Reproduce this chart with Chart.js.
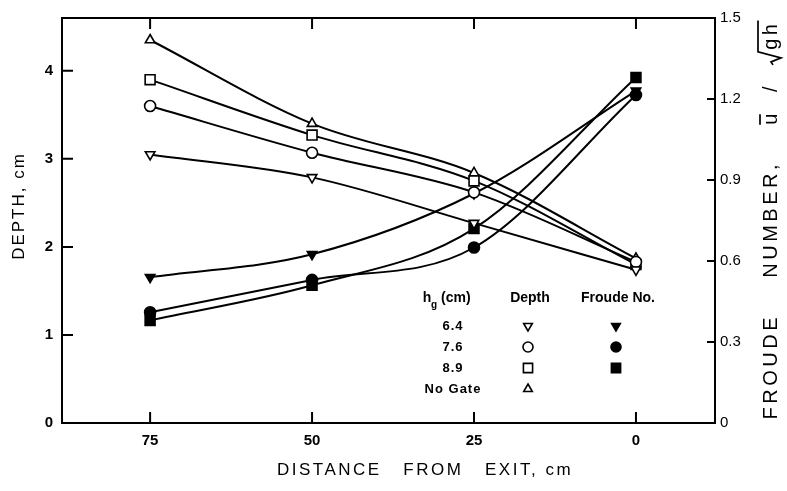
<!DOCTYPE html>
<html>
<head>
<meta charset="utf-8">
<script src="https://cdn.jsdelivr.net/npm/chart.js@4/dist/chart.umd.min.js"></script>
<style>
html,body{margin:0;padding:0;background:#fff;}
#wrap{width:787px;height:491px;position:relative;}
</style>
</head>
<body>
<div id="wrap"><canvas id="c" width="787" height="491"></canvas></div>
<script>
// ---- data ----
const distances = [75, 50, 25, 0];
const depth64 = [3.05, 2.79, 2.27, 1.74];
const depth76 = [3.60, 3.07, 2.62, 1.83];
const depth89 = [3.90, 3.27, 2.75, 1.80];
const depthNoGate = [4.35, 3.40, 2.84, 1.87];
const froude64 = [0.54, 0.625, 0.85, 1.23];
const froude76 = [0.41, 0.53, 0.65, 1.215];
const froude89 = [0.38, 0.51, 0.72, 1.28];
const xTicks = [75, 50, 25, 0];
const depthTicks = [0, 1, 2, 3, 4];
const froudeTicks = [0, 0.3, 0.6, 0.9, 1.2, 1.5];
const legendRows = ['6.4', '7.6', '8.9', 'No Gate'];

const FONT = '"Liberation Sans", Arial, sans-serif';
const pts = arr => distances.map((d, i) => ({x: d, y: arr[i]}));

function ds(arr, axis, style, filled, rot) {
  return {
    data: pts(arr), yAxisID: axis,
    borderColor: '#000', borderWidth: 2,
    cubicInterpolationMode: 'monotone',
    pointStyle: style, pointRotation: rot || 0,
    pointRadius: style === 'rect' ? 7 : 5.5,
    pointBackgroundColor: filled ? '#000' : '#fff',
    pointBorderColor: '#000', pointBorderWidth: 1.6,
    fill: false
  };
}

const frame = {
  id: 'frame',
  afterDraw(chart) {
    const ctx = chart.ctx, a = chart.chartArea;
    const xs = chart.scales.x, yl = chart.scales.y, yr = chart.scales.y1;
    ctx.save();
    ctx.strokeStyle = '#000';
    ctx.lineWidth = 2;
    ctx.strokeRect(a.left, a.top, a.right - a.left, a.bottom - a.top);
    ctx.beginPath();
    xTicks.forEach(v => {
      const px = xs.getPixelForValue(v);
      ctx.moveTo(px, a.bottom); ctx.lineTo(px, a.bottom - 11);
      ctx.moveTo(px, a.top); ctx.lineTo(px, a.top + 11);
    });
    depthTicks.forEach(v => {
      const py = yl.getPixelForValue(v);
      ctx.moveTo(a.left, py); ctx.lineTo(a.left + 11, py);
    });
    froudeTicks.forEach(v => {
      const py = yr.getPixelForValue(v);
      ctx.moveTo(a.right, py); ctx.lineTo(a.right - 8, py);
    });
    ctx.stroke();

    // titles
    ctx.fillStyle = '#000';
    ctx.textBaseline = 'middle';
    ctx.textAlign = 'center';
    ctx.font = '17px ' + FONT;
    ctx.letterSpacing = '2.5px';
    ctx.fillText('DISTANCE   FROM   EXIT, cm', 425, 470);

    ctx.save();
    ctx.translate(19, 206);
    ctx.rotate(-Math.PI / 2);
    ctx.letterSpacing = '2px';
    ctx.fillText('DEPTH, cm', 0, 0);
    ctx.restore();

    ctx.save();
    ctx.translate(771, 220);
    ctx.rotate(-Math.PI / 2);
    ctx.textAlign = 'left';
    ctx.font = '20px ' + FONT;
    ctx.letterSpacing = '3.5px';
    const t1 = 'FROUDE    NUMBER,    ';
    const t2 = 'u  /  ';
    const t3 = 'gh';
    const w1 = ctx.measureText(t1).width, w2 = ctx.measureText(t2).width;
    const w3 = ctx.measureText(t3).width;
    const total = w1 + w2 + 15 + w3;
    let x0 = -total / 2;
    ctx.fillText(t1, x0, 0);
    ctx.fillText(t2, x0 + w1, 0);
    const uw = ctx.measureText('u').width;
    ctx.lineWidth = 1.7;
    ctx.beginPath();
    ctx.moveTo(x0 + w1, -11); ctx.lineTo(x0 + w1 + uw - 4, -11);
    const sx = x0 + w1 + w2;
    ctx.moveTo(sx, 2); ctx.lineTo(sx + 3, 0); ctx.lineTo(sx + 7, 10);
    ctx.lineTo(sx + 13, -13); ctx.lineTo(sx + 15 + w3, -13);
    ctx.stroke();
    ctx.fillText(t3, sx + 15, 0);
    ctx.restore();

    // legend
    ctx.letterSpacing = '0px';
    ctx.font = 'bold 14px ' + FONT;
    ctx.textAlign = 'center';
    ctx.fillText('h', 427, 298);
    ctx.font = 'bold 10px ' + FONT;
    ctx.fillText('g', 434, 305);
    ctx.font = 'bold 14px ' + FONT;
    ctx.textAlign = 'left';
    ctx.fillText('(cm)', 441, 298);
    ctx.textAlign = 'center';
    ctx.fillText('Depth', 530, 298);
    ctx.fillText('Froude No.', 618, 298);
    const rowsY = [326, 347, 368, 389];
    ctx.font = 'bold 13px ' + FONT;
    ctx.letterSpacing = '1px';
    legendRows.forEach((r, i) => ctx.fillText(r, 453, rowsY[i]));
    const mk = (style, x, y, filled, rot) => {
      ctx.save();
      ctx.fillStyle = filled ? '#000' : '#fff';
      ctx.strokeStyle = '#000';
      ctx.lineWidth = 1.6;
      Chart.helpers.drawPoint(ctx, {pointStyle: style, rotation: rot || 0, radius: style === 'rect' ? 6.5 : 5, borderWidth: 1.6}, x, y);
      ctx.restore();
    };
    mk('triangle', 528, rowsY[0], false, 180);
    mk('circle', 528, rowsY[1], false);
    mk('rect', 528, rowsY[2], false);
    mk('triangle', 528, rowsY[3], false);
    mk('triangle', 616, rowsY[0], true, 180);
    mk('circle', 616, rowsY[1], true);
    mk('rect', 616, rowsY[2], true);
    ctx.restore();
  }
};

new Chart(document.getElementById('c'), {
  type: 'line',
  data: {
    datasets: [
      ds(depth64, 'y', 'triangle', false, 180),
      ds(depth76, 'y', 'circle', false),
      ds(depth89, 'y', 'rect', false),
      ds(depthNoGate, 'y', 'triangle', false),
      ds(froude64, 'y1', 'triangle', true, 180),
      ds(froude76, 'y1', 'circle', true),
      ds(froude89, 'y1', 'rect', true)
    ]
  },
  options: {
    responsive: false,
    animation: false,
    layout: {padding: {top: 16, left: 0, right: 0, bottom: 0}},
    plugins: {legend: {display: false}, tooltip: {enabled: false}},
    scales: {
      x: {
        type: 'linear', reverse: true, min: -12.2, max: 88.6,
        afterBuildTicks: s => { s.ticks = xTicks.map(v => ({value: v})); },
        afterFit: s => { s.height = 68; },
        grid: {display: false, drawTicks: false},
        border: {display: false},
        ticks: {color: '#000', padding: 9, font: {family: FONT, size: 15, weight: 'bold'}}
      },
      y: {
        type: 'linear', position: 'left', min: 0, max: 4.6,
        afterBuildTicks: s => { s.ticks = depthTicks.map(v => ({value: v})); },
        afterFit: s => { s.width = 62; },
        grid: {display: false, drawTicks: false},
        border: {display: false},
        ticks: {color: '#000', padding: 9, font: {family: FONT, size: 15, weight: 'bold'}}
      },
      y1: {
        type: 'linear', position: 'right', min: 0, max: 1.5,
        afterBuildTicks: s => { s.ticks = froudeTicks.map(v => ({value: v})); },
        afterFit: s => { s.width = 72; },
        grid: {display: false, drawTicks: false},
        border: {display: false},
        ticks: {color: '#000', padding: 5, font: {family: FONT, size: 15},
          callback: v => (v === 0 ? '0' : v.toFixed(1))}
      }
    }
  },
  plugins: [frame]
});
</script>
</body>
</html>
